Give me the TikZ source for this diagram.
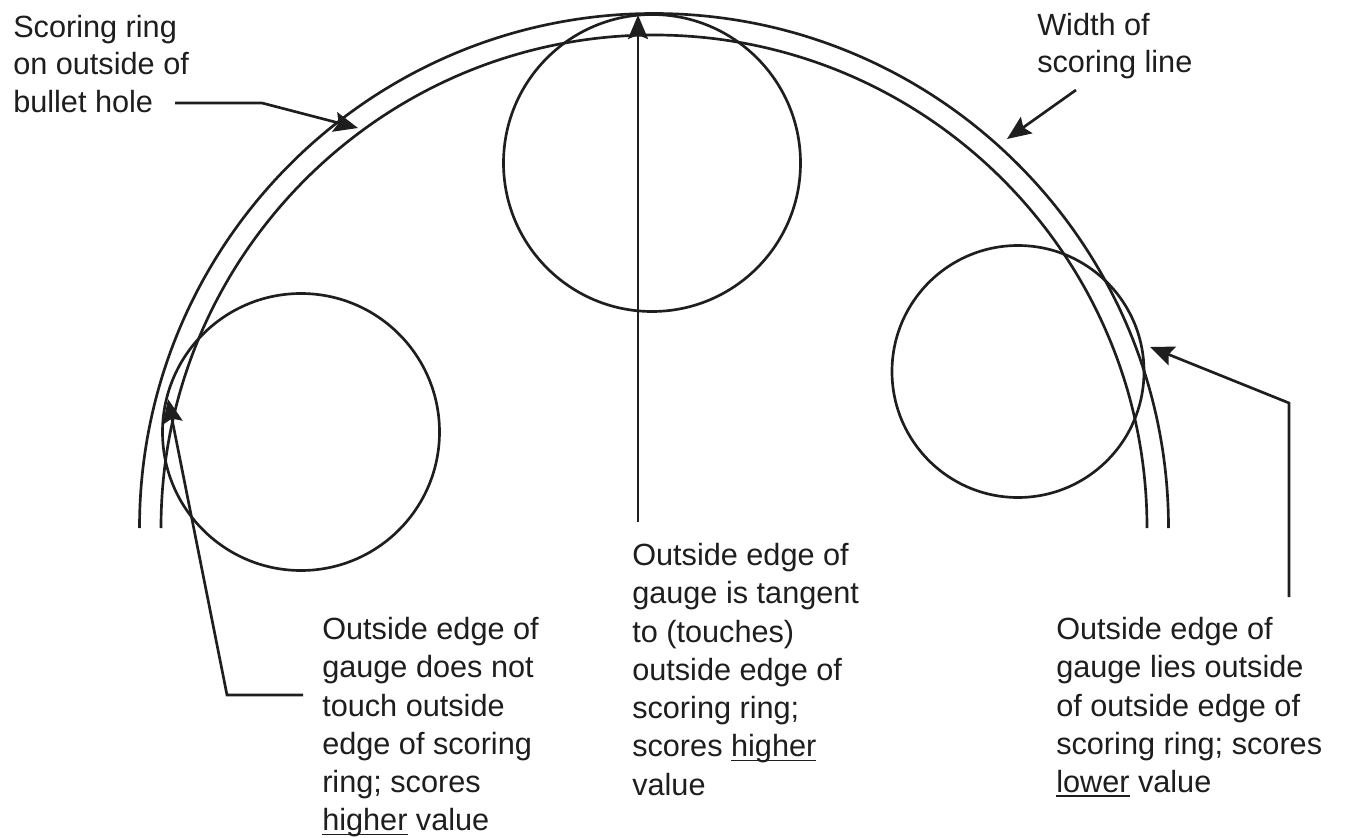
\documentclass[tikz,border=0pt]{standalone}
\usepackage{fontspec}
\setmainfont{Liberation Sans}
\usetikzlibrary{arrows.meta}
\newcommand\myul[1]{\setbox0\hbox{#1}\rlap{\rule[-3.5pt]{\wd0}{1.3pt}}#1}
\definecolor{ink}{HTML}{1E1E1E}
\begin{document}
\begin{tikzpicture}[x=0.75pt,y=-0.75pt,
  ring/.style={draw=ink, line width=2pt},
  gauge/.style={draw=ink, line width=2pt},
  leader/.style={draw=ink, line width=2pt, line join=miter,
    -{Stealth[length=18pt,width=15pt,inset=3pt]}},
  lbl/.style={inner sep=0pt, anchor=north west, align=left, text=ink,
    font=\fontsize{23}{28.7}\selectfont},
  lbltop/.style={lbl, font=\fontsize{23}{28.1}\selectfont}]
\useasboundingbox (0,0) rectangle (1346,838);
\fill[white] (0,0) rectangle (1346,838);

% scoring ring (two arcs)
\draw[ring] (654+514.5,528) arc[start angle=0, end angle=-180, radius=514.5];
\draw[ring] (654+493,528) arc[start angle=0, end angle=-180, radius=493];

% gauges
\draw[gauge] (301,432) circle[radius=138.5];
\draw[gauge] (652,163) circle[radius=148.5];
\draw[gauge] (1018,371.5) circle[radius=126];

% labels
\node[lbltop] (tl) at (13,15) {Scoring ring\\on outside of\\bullet hole};
\node[lbltop] (tr) at (1037,13) {Width of\\scoring line};
\node[lbl] (bl) at (322,617) {Outside edge of\\gauge does not\\touch outside\\edge of scoring\\ring; scores\\\myul{higher} value};
\node[lbl] (bm) at (632,543) {Outside edge of\\gauge is tangent\\to (touches)\\outside edge of\\scoring ring;\\scores \myul{higher}\\value};
\node[lbl] (br) at (1056,617) {Outside edge of\\gauge lies outside\\of outside edge of\\scoring ring; scores\\\myul{lower} value};

% connector points
\coordinate (srS) at (175,103);
\coordinate (srB) at (262,103);
\coordinate (srT) at (358,128);
\coordinate (wS) at (1076,90);
\coordinate (wT) at (1007,139);
\coordinate (mS) at (638,522);
\coordinate (mT) at (638,15);
\coordinate (lS) at (303,695);
\coordinate (lB) at (227,695);
\coordinate (lT) at (168,399);
\coordinate (rS) at (1289,597);
\coordinate (rB) at (1289,403);
\coordinate (rT) at (1150,347);

% connectors
\draw[leader] (srS) -- (srB) -- (srT);
\draw[leader] (wS) -- (wT);
\draw[leader] (mS) -- (mT);
\draw[leader] (lS) -- (lB) -- (lT);
\draw[leader] (rS) -- (rB) -- (rT);
\end{tikzpicture}
\end{document}
